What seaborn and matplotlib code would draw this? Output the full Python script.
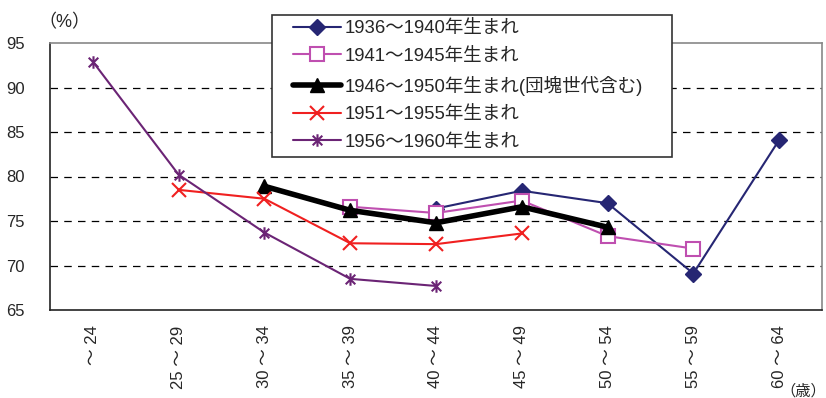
import numpy as np
import pandas as pd
import seaborn as sns
import matplotlib.pyplot as plt
from matplotlib.path import Path
from matplotlib.patches import Rectangle

categories = ["～ 24", "25 ～ 29", "30 ～ 34", "35 ～ 39", "40 ～ 44", "45 ～ 49", "50 ～ 54", "55 ～ 59", "60 ～ 64"]

s1936 = [np.nan, np.nan, np.nan, np.nan, 76.4, 78.4, 77.0, 69.1, 84.1]
s1941 = [np.nan, np.nan, np.nan, 76.6, 75.9, 77.3, 73.3, 71.9, np.nan]
s1946 = [np.nan, np.nan, 78.9, 76.2, 74.8, 76.6, 74.3, np.nan, np.nan]
s1951 = [np.nan, 78.5, 77.5, 72.5, 72.4, 73.6, np.nan, np.nan, np.nan]
s1956 = [92.9, 80.2, 73.7, 68.5, 67.7, np.nan, np.nan, np.nan, np.nan]

labels = ["1936～1940年生まれ", "1941～1945年生まれ", "1946～1950年生まれ(団塊世代含む)",
          "1951～1955年生まれ", "1956～1960年生まれ"]

sns.set_style("white")
plt.rcParams["font.family"] = ["Liberation Sans", "Noto Sans CJK JP", "DejaVu Sans"]

# Excel style star: an x with a vertical bar
star = Path([(-1, -1), (1, 1), (-1, 1), (1, -1), (0, -1.3), (0, 1.3)],
            [Path.MOVETO, Path.LINETO, Path.MOVETO, Path.LINETO, Path.MOVETO, Path.LINETO])

styles = [
    dict(color="#262673", lw=1.5, marker="D", ms=8, mfc="#262673", mec="#262673", mew=1),
    dict(color="#bf4fb0", lw=1.5, marker="s", ms=10, mfc="white", mec="#bf4fb0", mew=1.5),
    dict(color="black", lw=4, marker="^", ms=10, mfc="black", mec="black", mew=1),
    dict(color="#f02020", lw=1.5, marker="x", ms=10, mfc="#f02020", mec="#f02020", mew=1.5),
    dict(color="#6b2475", lw=1.5, marker=star, ms=9, mfc="none", mec="#6b2475", mew=1.5),
]
series = [s1936, s1941, s1946, s1951, s1956]

fig = plt.figure(figsize=(8.26, 3.98), dpi=100)
ax = fig.add_axes([50 / 826, 1 - 310 / 398, 772 / 826, 267 / 398])

x = np.arange(len(categories))
for vals, lab, st in zip(series, labels, styles):
    df = pd.DataFrame({"x": x, "y": vals}).dropna()
    sns.lineplot(data=df, x="x", y="y", ax=ax, label=lab, color=st["color"], linewidth=st["lw"],
                 marker=st["marker"], markersize=st["ms"], markerfacecolor=st["mfc"],
                 markeredgecolor=st["mec"], markeredgewidth=st["mew"], zorder=3)

ax.set_xlim(-0.5, len(categories) - 0.5)
ax.set_ylim(65, 95)
ax.set_yticks([65, 70, 75, 80, 85, 90, 95])
for yv in [70, 75, 80, 85, 90]:
    ax.axhline(yv, color="black", lw=0.9, dashes=(6, 5), zorder=1)

ax.set_xticks(x)
ax.set_xticklabels(categories, rotation=90, fontsize=12)
ax.set_xticks(np.arange(0.5, len(categories) - 1, 1), minor=True)
ax.tick_params(axis="x", which="major", length=0, pad=11)
ax.tick_params(axis="x", which="minor", direction="in", length=5, width=0.8, color="black")
ax.tick_params(axis="y", length=0, pad=18, labelsize=12)
ax.set_xlabel("")
ax.set_ylabel("")

for side in ["left", "bottom"]:
    ax.spines[side].set_color("#222222")
    ax.spines[side].set_linewidth(1.2)
for side in ["top", "right"]:
    ax.spines[side].set_color("#888888")
    ax.spines[side].set_linewidth(1.2)

# legend box drawn separately so the padding matches the original
box = Rectangle((272 / 826, 1 - 157 / 398), 400 / 826, 142 / 398, transform=fig.transFigure,
                facecolor="white", edgecolor="#333333", linewidth=1.2, zorder=4)
fig.patches.append(box)

handles, labs = ax.get_legend_handles_labels()
ax.get_legend().remove()
leg = fig.legend(handles, labs, loc="upper left", bbox_to_anchor=(293 / 826, 1 - 20 / 398),
                 fontsize=13.3, frameon=False,
                 handlelength=2.6, handletextpad=0.2, labelspacing=0.58,
                 borderpad=0, borderaxespad=0)
leg.set_zorder(5)

fig.text(38 / 826, 1 - 23 / 398, "（%）", fontsize=13, ha="left", va="center")
fig.text(826 / 826, 1 - 391 / 398, "（歳）", fontsize=11, ha="right", va="center")

plt.savefig("out.png", dpi=100)
